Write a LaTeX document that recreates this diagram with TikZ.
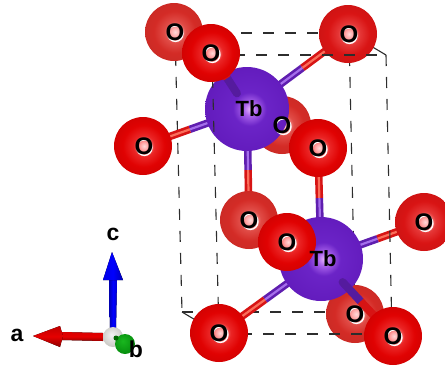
\documentclass[tikz,border=0pt]{standalone}
\usepackage{fontspec}
\setmainfont{Liberation Sans}
\usetikzlibrary{calc}
\pgfdeclareradialshading{oballA}{\pgfpoint{1bp}{0bp}}{rgb(0bp)=(1,.85,.85);rgb(4bp)=(1,.6,.6);rgb(9bp)=(.92,.15,.15);rgb(18bp)=(.88,.01,.01);rgb(36bp)=(.76,0,0);rgb(46bp)=(.55,0,0);rgb(52bp)=(.42,.03,.03)}
\pgfdeclareradialshading{oballB}{\pgfpoint{1bp}{0bp}}{rgb(0bp)=(1,.85,.85);rgb(4bp)=(1,.62,.62);rgb(9bp)=(.9,.22,.22);rgb(18bp)=(.85,.08,.08);rgb(36bp)=(.76,.07,.07);rgb(46bp)=(.58,.07,.07);rgb(52bp)=(.48,.12,.12)}
\pgfdeclareradialshading{oballC}{\pgfpoint{1bp}{0bp}}{rgb(0bp)=(1,.85,.85);rgb(4bp)=(1,.65,.65);rgb(9bp)=(.88,.3,.28);rgb(18bp)=(.83,.17,.15);rgb(36bp)=(.76,.16,.14);rgb(46bp)=(.62,.18,.16);rgb(52bp)=(.56,.22,.2)}
\pgfdeclareradialshading{tbball}{\pgfpoint{2bp}{0bp}}{rgb(0bp)=(.92,.72,1);rgb(4bp)=(.66,.38,.92);rgb(10bp)=(.42,.14,.78);rgb(34bp)=(.37,.09,.72);rgb(47bp)=(.31,.05,.6);rgb(52bp)=(.26,.04,.5)}
\pgfdeclareradialshading{grayball}{\pgfpoint{-4bp}{6bp}}{rgb(0bp)=(.95,.95,.95);rgb(28bp)=(.78,.78,.76);rgb(56bp)=(.38,.38,.35)}
\pgfdeclareradialshading{greenball}{\pgfpoint{-6bp}{8bp}}{rgb(0bp)=(.1,.72,.12);rgb(30bp)=(.02,.55,.05);rgb(60bp)=(0,.3,0)}
\definecolor{bondP}{RGB}{95,30,175}
\definecolor{bondPl}{RGB}{165,110,235}
\definecolor{bondR}{RGB}{215,20,20}
\definecolor{bondRl}{RGB}{250,110,90}
\definecolor{boxline}{RGB}{45,45,45}
\newcommand{\halfbond}[4]{%
  \draw[line width=7.5pt,#3] (#1) -- (#2);
  \draw[line width=2.2pt,#4] (#1) -- (#2);}
\newcommand{\bondTbO}[2]{%
  \coordinate (mid) at ($(#1)!.55!(#2)$);
  \halfbond{#1}{mid}{bondP}{bondPl}
  \halfbond{mid}{#2}{bondR}{bondRl}}
\newcommand{\stubTbO}[3]{%
  \coordinate (st) at ($(#1)!#3!(#2)$);
  \coordinate (mid) at ($(#1)!.55!(#2)$);
  \draw[line width=8pt,bondP!90!black,line cap=round] (st) -- (mid);
  \draw[line width=8pt,bondR] (mid) -- (#2);}
\tikzset{
  atom/.style={circle,inner sep=0pt,minimum size=58pt,shade},
  oA/.style={atom,shading=oballA},
  oB/.style={atom,shading=oballB},
  oC/.style={atom,shading=oballC},
  tb/.style={circle,inner sep=0pt,minimum size=84pt,shade,shading=tbball},
  cell/.style={boxline,line width=1.1pt,dash pattern=on 11pt off 11pt},
  olabel/.style={font=\bfseries\fontsize{24}{24}\selectfont,text=black,inner sep=0pt},
  tblabel/.style={font=\bfseries\fontsize{22}{22}\selectfont,text=black,inner sep=0pt},
  axlabel/.style={font=\bfseries\fontsize{23}{23}\selectfont,text=black,inner sep=0pt},
  rim/.style={white,line width=1.4pt},
}
\begin{document}
\begin{tikzpicture}[x=1pt,y=-1pt]
\path[use as bounding box,fill=white] (0,0) rectangle (445,368);
% cell corners
\coordinate (tbl) at (175,33);
\coordinate (tbr) at (349,33);
\coordinate (tfl) at (212,55);
\coordinate (tfr) at (386,55);
\coordinate (bbl) at (182,312);
\coordinate (bbr) at (355,312);
\coordinate (bfl) at (219,334);
\coordinate (bfr) at (392,334);
% atom positions
\coordinate (pO1) at (174,32);
\coordinate (pO2) at (211,53);
\coordinate (pO3) at (348,34);
\coordinate (pO4) at (143,146);
\coordinate (pO5) at (282,125);
\coordinate (pO6) at (318,148);
\coordinate (pO7) at (249,220);
\coordinate (pO8) at (287,242);
\coordinate (pO9) at (424,222);
\coordinate (pO10) at (219,333);
\coordinate (pO11) at (355,314);
\coordinate (pO12) at (393,336);
\coordinate (pT1) at (247,109);
\coordinate (pT2) at (321,259);
% back cell edges
\draw[cell] (tbl) -- (tbr);
\draw[cell] (tbl) -- (bbl);
\draw[cell] (tbr) -- (bbr);
\draw[cell] (bbl) -- (bbr);
\draw[boxline,line width=1.1pt] (bbl) -- ($(bbl)!.35!(bfl)$);
\draw[boxline,line width=1.1pt] ($(tbr)!.6!(tfr)$) -- (tfr);
% bonds
\bondTbO{pT1}{pO3}
\bondTbO{pT1}{pO4}
\bondTbO{pT1}{pO7}
\bondTbO{pT2}{pO6}
\bondTbO{pT2}{pO9}
\bondTbO{pT2}{pO10}
% back and middle oxygens
\node[oC] (O1) at (pO1) {};
\node[oC] (O5) at (pO5) {};
\node[oC] (O7) at (pO7) {};
\node[oC] (O11) at (pO11) {};
\node[oB] (O3) at (pO3) {};
\node[oB] (O9) at (pO9) {};
\node[oA] (O4) at (pO4) {};
% terbium
\node[tb] (Tb1) at (pT1) {};
\node[tb] (Tb2) at (pT2) {};
% bonds in front of the terbium atoms
\stubTbO{pT1}{pO2}{.28}
\stubTbO{pT2}{pO12}{.3}
% front cell edges
\draw[cell] (tfl) -- (tfr);
\draw[cell] (tfr) -- (bfr);
\draw[cell] (tfl) -- (bfl);
\draw[cell] (bfl) -- (bfr);
% front oxygens
\node[oA] (O2) at (pO2) {};
\node[oA] (O6) at (pO6) {};
\node[oA] (O8) at (pO8) {};
\node[oA] (O10) at (pO10) {};
\node[oA] (O12) at (pO12) {};
% label rims
\foreach \p in {pO1,pO2,pO3,pO4,pO5,pO6,pO7,pO8,pO9,pO10,pO11,pO12}
  \draw[rim] ($(\p)+(1.4,1.6)$) circle[x radius=7.6pt,y radius=7.8pt];
% labels
\node[olabel] (L1) at ($(pO1)+(1,0)$) {O};
\node[olabel] (L2) at ($(pO2)+(0,0)$) {O};
\node[olabel] (L3) at ($(pO3)+(1,0)$) {O};
\node[olabel] (L4) at ($(pO4)+(1,0)$) {O};
\node[olabel] (L5) at (pO5) {O};
\node[olabel] (L6) at ($(pO6)+(0,0)$) {O};
\node[olabel] (L7) at (pO7) {O};
\node[olabel] (L8) at (pO8) {O};
\node[olabel] (L9) at (pO9) {O};
\node[olabel] (L10) at (pO10) {O};
\node[olabel] (L11) at (pO11) {O};
\node[olabel] (L12) at (pO12) {O};
\node[tblabel] (LT1) at ($(pT1)+(2,0)$) {Tb};
\node[tblabel] (LT2) at ($(pT2)+(2,0)$) {Tb};
% axes
\coordinate (axO) at (113,337);
\coordinate (axR) at (62,336);
\coordinate (axB) at (113,280);
\fill[top color=red!85!black,bottom color=red!60!black,middle color=red!90!black] (103,333) -- (62,332) -- (62,340) -- (103,341) -- cycle;
\fill[top color=red!75!black,bottom color=red!55!black,middle color=red!90!black] (33,336) -- (60,326) -- (63,336) -- (60,347) -- cycle;
\fill[left color=blue!70!black,right color=blue!80!black,middle color=blue] (110,330) -- (109,280) -- (117,280) -- (116,330) -- cycle;
\fill[left color=blue!90!black,right color=blue!70!black,middle color=blue] (112,252) -- (123,280) -- (103,280) -- cycle;
\node[circle,inner sep=0pt,minimum size=20pt,shade,shading=grayball] (axball) at (axO) {};
\node[circle,inner sep=0pt,minimum size=20pt,shade,shading=greenball] (bball) at (125,344) {};
\fill[green!40!black] (116,338) circle[radius=2.5pt];
\node[axlabel] (la) at (17,335) {a};
\node[axlabel] (lb) at (136,349) {b};
\node[axlabel] (lc) at (113,234) {c};
\end{tikzpicture}
\end{document}
